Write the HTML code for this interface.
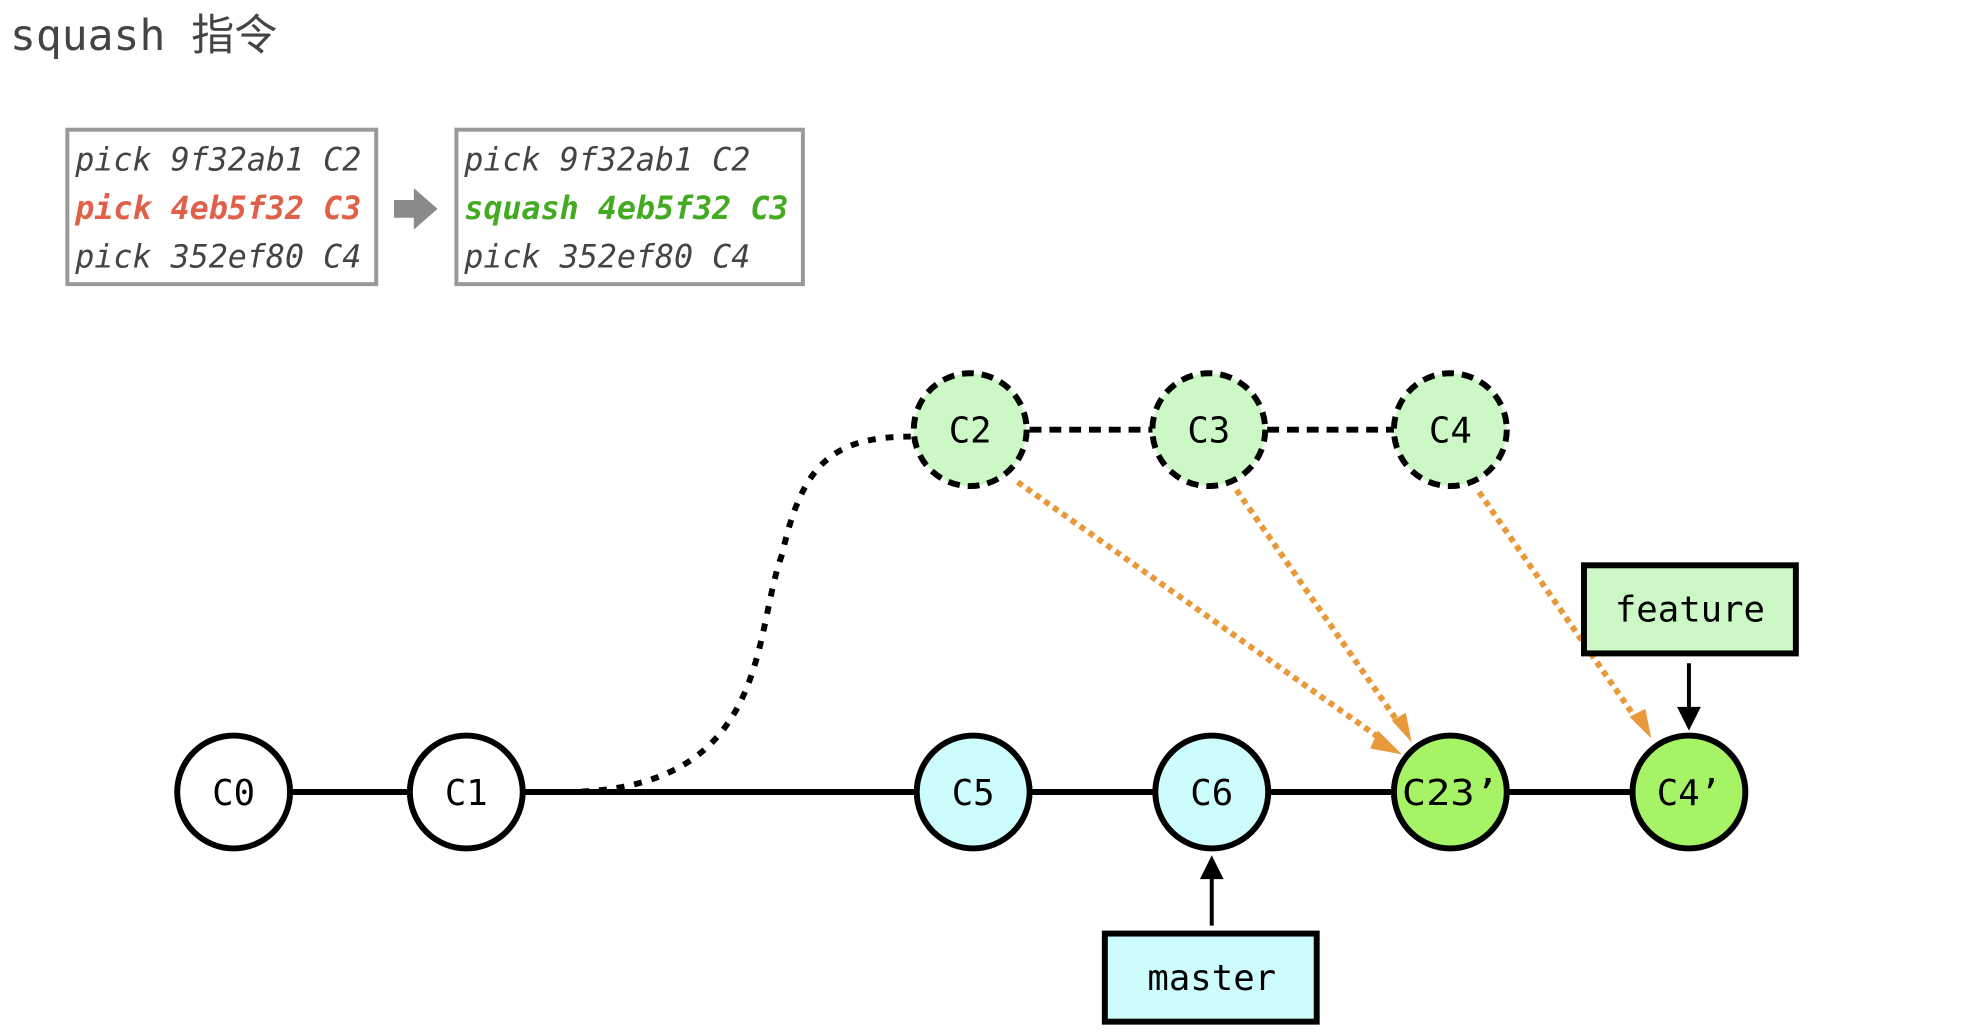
<!DOCTYPE html>
<html><head><meta charset="utf-8"><style>
html,body{margin:0;padding:0;background:#fff;width:1962px;height:1032px;overflow:hidden}
</style></head><body>
<svg width="1962" height="1032" viewBox="0 0 1962 1032" xmlns="http://www.w3.org/2000/svg">
<text x="10" y="50" font-family="'DejaVu Sans Mono','Noto Sans CJK SC',monospace" font-size="43" fill="#444">squash 指令</text>
<g transform="scale(0.99)">
<rect x="68" y="131" width="312" height="156" fill="#fff" stroke="#999" stroke-width="4"/>
<rect x="461" y="131" width="350" height="156" fill="#fff" stroke="#999" stroke-width="4"/>
<g font-family="'DejaVu Sans Mono',monospace" font-style="italic" font-size="32">
<text x="76" y="172" fill="#444">pick 9f32ab1 C2</text>
<text x="76" y="221" fill="#e0604a" font-weight="bold">pick 4eb5f32 C3</text>
<text x="76" y="270" fill="#444">pick 352ef80 C4</text>
<text x="469" y="172" fill="#444">pick 9f32ab1 C2</text>
<text x="469" y="221" fill="#44aa22" font-weight="bold">squash 4eb5f32 C3</text>
<text x="469" y="270" fill="#444">pick 352ef80 C4</text>
</g>
<path d="M398,202 L418,202 L418,190 L442,211 L418,232 L418,220 L398,220 z" fill="#8a8a8a"/>

<line x1="236" y1="800" x2="1706" y2="800" stroke="#000" stroke-width="6"/>
<line x1="980" y1="434" x2="1465" y2="434" stroke="#000" stroke-width="6" stroke-dasharray="12,8"/>
<path d="M569,800 C780,800 760,640 790,560 C810,470 840,441 920,441" fill="none" stroke="#000" stroke-width="6" stroke-dasharray="8,10"/>

<g stroke="#e8993a" stroke-width="6" stroke-dasharray="6,5" fill="none">
<line x1="1028" y1="487" x2="1400" y2="750"/>
<line x1="1249" y1="495" x2="1414" y2="732"/>
<line x1="1494" y1="497" x2="1654" y2="728"/>
</g>
<path d="M1392,738 L1416,762 L1384,756 z" fill="#e8993a"/>
<path d="M1406,728 L1426,750 L1420,720 z" fill="#e8993a"/>
<path d="M1646,724 L1668,746 L1662,716 z" fill="#e8993a"/>

<g stroke="#000" stroke-width="6">
<circle cx="980" cy="434" r="57" fill="#ccf8c6" stroke-dasharray="12,8"/>
<circle cx="1221" cy="434" r="57" fill="#ccf8c6" stroke-dasharray="12,8"/>
<circle cx="1465" cy="434" r="57" fill="#ccf8c6" stroke-dasharray="12,8"/>
<circle cx="236" cy="800" r="57" fill="#fff"/>
<circle cx="471" cy="800" r="57" fill="#fff"/>
<circle cx="983" cy="800" r="57" fill="#ccfcfc"/>
<circle cx="1224" cy="800" r="57" fill="#ccfcfc"/>
<circle cx="1465" cy="800" r="57" fill="#a6f466"/>
<circle cx="1706" cy="800" r="57" fill="#a6f466"/>
</g>
<g font-family="'DejaVu Sans Mono',monospace" font-size="36" text-anchor="middle" fill="#000">
<text x="980" y="447">C2</text>
<text x="1221" y="447">C3</text>
<text x="1465" y="447">C4</text>
<text x="236" y="813">C0</text>
<text x="471" y="813">C1</text>
<text x="983" y="813">C5</text>
<text x="1224" y="813">C6</text>
<text x="1465" y="813" textLength="98" lengthAdjust="spacingAndGlyphs">C23’</text>
<text x="1706" y="813">C4’</text>
</g>

<rect x="1600" y="571" width="214" height="89" fill="#ccf8c6" stroke="#000" stroke-width="6"/>
<text x="1707" y="628" font-family="'DejaVu Sans Mono',monospace" font-size="36" text-anchor="middle">feature</text>
<line x1="1706" y1="670" x2="1706" y2="718" stroke="#000" stroke-width="4"/>
<path d="M1694,714 L1718,714 L1706,738 z" fill="#000"/>

<rect x="1116" y="943" width="214" height="89" fill="#ccfcfc" stroke="#000" stroke-width="6"/>
<text x="1224" y="1000" font-family="'DejaVu Sans Mono',monospace" font-size="36" text-anchor="middle">master</text>
<line x1="1224" y1="935" x2="1224" y2="884" stroke="#000" stroke-width="4"/>
<path d="M1212,888 L1236,888 L1224,864 z" fill="#000"/>
</g>
</svg>
</body></html>
